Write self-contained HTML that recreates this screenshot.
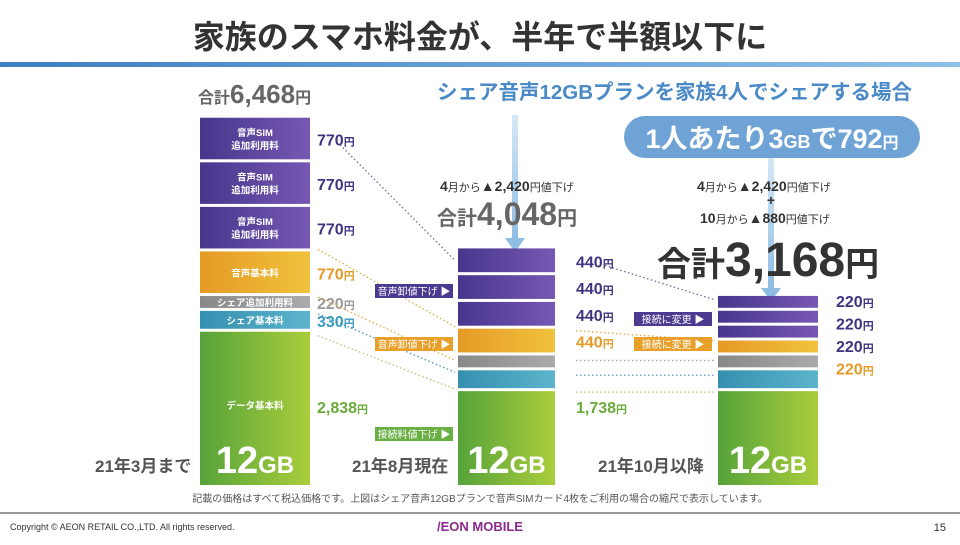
<!DOCTYPE html>
<html><head><meta charset="utf-8">
<style>
body{margin:0;width:960px;height:540px;overflow:hidden;background:#fff;font-family:"Liberation Sans","Noto Sans CJK JP",sans-serif;}
svg text{font-family:"Liberation Sans","Noto Sans CJK JP",sans-serif;}
</style></head>
<body>
<svg id="chart" width="960" height="540" viewBox="0 0 960 540" xmlns="http://www.w3.org/2000/svg">
<defs>
<linearGradient id="gP" x1="0" x2="1"><stop offset="0" stop-color="#47368c"/><stop offset="1" stop-color="#7658b2"/></linearGradient>
<linearGradient id="gO" x1="0" x2="1"><stop offset="0" stop-color="#e59a26"/><stop offset="1" stop-color="#f1c23e"/></linearGradient>
<linearGradient id="gG" x1="0" x2="1"><stop offset="0" stop-color="#888"/><stop offset="1" stop-color="#aaa"/></linearGradient>
<linearGradient id="gT" x1="0" x2="1"><stop offset="0" stop-color="#3590b0"/><stop offset="1" stop-color="#5cb4cc"/></linearGradient>
<linearGradient id="gN" x1="0" x2="1"><stop offset="0" stop-color="#56a33a"/><stop offset="1" stop-color="#aacd3c"/></linearGradient>
<linearGradient id="gLine" x1="0" x2="1"><stop offset="0" stop-color="#3f7fc0"/><stop offset="1" stop-color="#8fc0e6"/></linearGradient>
<linearGradient id="gArr" x1="0" y1="0" x2="0" y2="1"><stop offset="0" stop-color="#d6e8f6"/><stop offset="1" stop-color="#8dbde3"/></linearGradient>
</defs>
<text x="480" y="48" font-size="32" font-weight="bold" fill="#333" text-anchor="middle">家族のスマホ料金が、半年で半額以下に</text>
<rect x="0" y="62" width="960" height="5" fill="url(#gLine)"/>
<text x="437" y="99" font-size="20.5" font-weight="bold" fill="#4a8ac6">シェア音声12GBプランを家族4人でシェアする場合</text>
<rect x="512" y="115" width="6" height="125" fill="url(#gArr)"/>
<polygon points="505,238 525,238 515,252" fill="#8dbde3"/>
<rect x="624" y="116" width="296" height="42" rx="21" fill="#6fa3d6"/>
<text x="772" y="148" font-size="27" font-weight="bold" fill="#fff" text-anchor="middle">1人あたり3<tspan font-size="18">GB</tspan>で792<tspan font-size="16">円</tspan></text>
<rect x="768" y="158" width="6" height="132" fill="url(#gArr)"/>
<polygon points="761,288 781,288 771,301" fill="#8dbde3"/>
<text x="198" y="103" font-size="26" font-weight="bold" fill="#666"><tspan font-size="16">合計</tspan>6,468<tspan font-size="16">円</tspan></text>
<text x="440" y="191" font-size="14" fill="#333"><tspan font-weight="bold">4</tspan><tspan font-size="11">月から</tspan>▲<tspan font-weight="bold">2,420</tspan><tspan font-size="11">円値下げ</tspan></text>
<text x="437" y="225" font-size="32" font-weight="bold" fill="#666"><tspan font-size="20">合計</tspan>4,048<tspan font-size="20">円</tspan></text>
<text x="697" y="191" font-size="14" fill="#333"><tspan font-weight="bold">4</tspan><tspan font-size="11">月から</tspan>▲<tspan font-weight="bold">2,420</tspan><tspan font-size="11">円値下げ</tspan></text>
<text x="771" y="205" font-size="14" font-weight="bold" fill="#333" text-anchor="middle">+</text>
<text x="700" y="223" font-size="14" fill="#333"><tspan font-weight="bold">10</tspan><tspan font-size="11">月から</tspan>▲<tspan font-weight="bold">880</tspan><tspan font-size="11">円値下げ</tspan></text>
<text x="657" y="276" font-size="48" font-weight="bold" fill="#333"><tspan font-size="34">合計</tspan>3,168<tspan font-size="34">円</tspan></text>
<g id="bars"></g>
<text x="95" y="472" font-size="17" font-weight="bold" fill="#555">21年3月まで</text>
<text x="352" y="472" font-size="17" font-weight="bold" fill="#555">21年8月現在</text>
<text x="598" y="472" font-size="17" font-weight="bold" fill="#555">21年10月以降</text>
<text x="480" y="502" font-size="10" fill="#555" text-anchor="middle">記載の価格はすべて税込価格です。上図はシェア音声12GBプランで音声SIMカード4枚をご利用の場合の縮尺で表示しています。</text>
<rect x="0" y="512" width="960" height="2" fill="#999"/>
<text x="10" y="530" font-size="9" fill="#333">Copyright © AEON RETAIL CO.,LTD. All rights reserved.</text>
<text x="480" y="531" font-size="13" font-weight="bold" fill="#8a2a8a" text-anchor="middle">/EON MOBILE</text>
<text x="946" y="531" font-size="11" fill="#333" text-anchor="end">15</text>
</svg>
<script>
const colLeft=[770,770,770,770,220,330,2838];
const colMid=[440,440,440,440,220,330,1738];
const colRight=[220,220,220,220,220,330,1738];
const segKinds=["p","p","p","o","g","t","n"];
const labelsLeft=["770","770","770","770","220","330","2,838"];
const labelsMid=["440","440","440","440","","","1,738"];
const labelsRight=["220","220","220","220","","",""];
const barNames=["音声SIM\n追加利用料","音声SIM\n追加利用料","音声SIM\n追加利用料","音声基本料","シェア追加利用料","シェア基本料","データ基本料"];

const NS="http://www.w3.org/2000/svg";
const g=document.getElementById('bars');
const fills={p:"url(#gP)",o:"url(#gO)",g:"url(#gG)",t:"url(#gT)",n:"url(#gN)"};
const txtCol={p:"#3f3480",o:"#e59a26",g:"#999",t:"#3a9bc0",n:"#6aaa3a"};
const BASE=485, GAP=3;
function yScale(v){return v*0.054;}
function mk(tag,attrs){const e=document.createElementNS(NS,tag);for(const k in attrs)e.setAttribute(k,attrs[k]);g.appendChild(e);return e;}
function drawCol(vals,labels,x,w,lx,key,names){
  let y=BASE;const segs=[];
  for(let i=vals.length-1;i>=0;i--){
    const h=yScale(vals[i]);
    const top=y-h;
    const r=mk('rect',{x:x,y:top,width:w,height:h,fill:fills[segKinds[i]]});
    
    
    segs[i]={top:top,bot:y,h:h};
    y=top-GAP;
  }
  for(let i=0;i<vals.length;i++){
    if(!labels[i])continue;
    const s=segs[i];
    let cy=s.top+s.h/2+7;
    if(key==='right'){cy=segs[0].top+11+i*22.5;}
    if(i===6) cy=413;
    const t=mk('text',{x:lx,y:cy,'font-size':16,'font-weight':'bold',fill:key==='right'&&i<3?"#3f3480":txtCol[segKinds[i]]});
    
    
    t.textContent=labels[i];
    const u=document.createElementNS(NS,'tspan');u.setAttribute('font-size','11');u.textContent='円';t.appendChild(u);
  }
  if(names){
    for(let i=0;i<vals.length;i++){
      const s=segs[i];const parts=names[i].split("\n");
      parts.forEach((p,j)=>{
        const cy=(i===6?409:s.top+s.h/2+4)+(j-(parts.length-1)/2)*13;
        const t=mk('text',{x:x+w/2,y:cy,'font-size':9.5,'font-weight':'bold',fill:'#fff','text-anchor':'middle'});
        
        
        t.textContent=p;
      });
    }
  }
  const big=mk('text',{x:x+w/2,y:473,'font-size':38,'font-weight':'bold',fill:'#fff','text-anchor':'middle'});
  
  
  big.textContent='12';
  const gb=document.createElementNS(NS,'tspan');gb.setAttribute('font-size','24');gb.textContent='GB';big.appendChild(gb);
  return segs;
}
const L=drawCol(colLeft,labelsLeft,200,110,317,'left',barNames);
const M=drawCol(colMid,labelsMid,458,97,576,'mid',null);
const R=drawCol(colRight,labelsRight,718,100,836,'right',null);
function dline(x1,y1,x2,y2,c,name){
  const l=mk('line',{x1:x1,y1:y1,x2:x2,y2:y2,stroke:c,'stroke-width':1.3,'stroke-dasharray':'1.5,2.5'});
  
  
}
dline(340,L[0].top+27,455,M[0].top+12,"#6a6aa0","connector-purple-1");
dline(318,L[3].top-2,455,M[3].top-2,"#e5a840","connector-orange-1");
dline(318,L[3].bot+4,455,M[3].bot+8,"#e5a840","connector-orange-2");
dline(318,L[4].bot+6,455,M[5].top+2,"#4a90c0","connector-teal-1");
dline(318,L[6].top+4,455,M[6].top-2,"#a8cc70","connector-green-1");
dline(605,M[0].top+17,715,R[0].top+4,"#6a6aa0","connector-purple-2");
dline(576,M[3].top+2,715,R[3].top,"#e5a840","connector-orange-3");
dline(576,M[4].top+5,715,M[4].top+5,"#aaa","connector-gray-2");
dline(576,M[5].top+5,715,M[5].top+5,"#6fa0d0","connector-teal-2");
dline(576,M[6].top+1,715,M[6].top+1,"#a8cc70","connector-green-2");
function tag(x,y,w,c,txt,name){
  const r=mk('rect',{x:x,y:y,width:w,height:14,fill:c});
  
  
  const t=mk('text',{x:x+w/2,y:y+11,'font-size':10,fill:'#fff','text-anchor':'middle'});
  
  
  t.textContent=txt;
}
tag(375,284,78,"#4b3a8f","音声卸値下げ ▶","tag-voice-wholesale-purple");
tag(375,337,78,"#e9a02a","音声卸値下げ ▶","tag-voice-wholesale-orange");
tag(375,427,78,"#6aaf44","接続料値下げ ▶","tag-connection-fee");
tag(634,312,78,"#4b3a8f","接続に変更 ▶","tag-switch-purple");
tag(634,337,78,"#e9a02a","接続に変更 ▶","tag-switch-orange");
</script>
</body></html>
